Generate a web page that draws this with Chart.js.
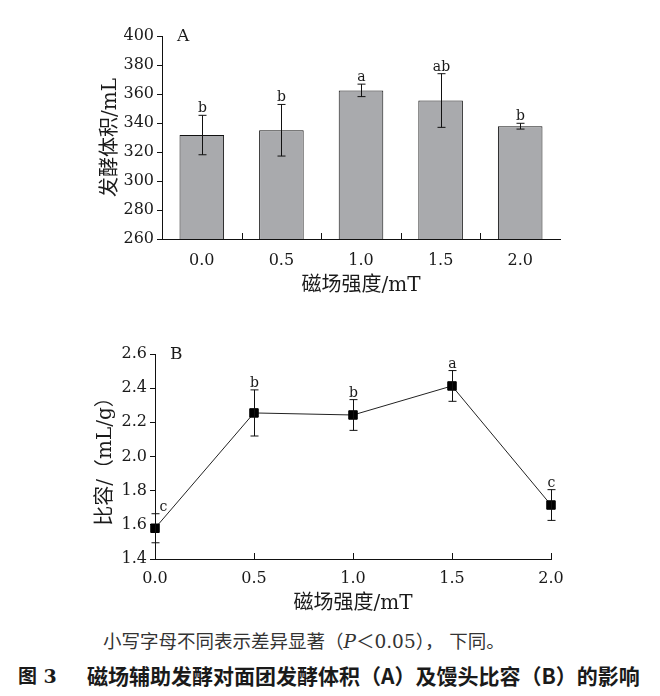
<!DOCTYPE html>
<html>
<head>
<meta charset="utf-8">
<script src="https://cdn.jsdelivr.net/npm/chart.js@4.4.1/dist/chart.umd.min.js"></script>
<style>
body{margin:0;background:#fff;width:660px;height:696px;position:relative;overflow:hidden}
canvas{position:absolute;left:0}
#chartA{top:0}
#chartB{top:320px}
.note{position:absolute;white-space:nowrap;color:#1a1a1a;font-family:"DejaVu Serif","Noto Sans CJK SC",serif}
#note1{left:103px;top:627px;font-size:18.5px;color:#333}
#fig{left:18px;top:661px;font-size:19px;font-weight:bold}
#note2{left:87px;top:660px;font-size:21px;font-weight:bold;font-family:"Noto Sans CJK SC",sans-serif}
</style>
</head>
<body>
<canvas id="chartA" width="660" height="300"></canvas>
<canvas id="chartB" width="660" height="300"></canvas>
<div class="note" id="note1">小写字母不同表示差异显著（<i>P</i>＜0.05）， 下同。</div>
<div class="note" id="fig">图 3</div>
<div class="note" id="note2">磁场辅助发酵对面团发酵体积（A）及馒头比容（B）的影响</div>
<script>
// magnetic field strength (mT)
const strengths = ['0.0', '0.5', '1.0', '1.5', '2.0']
const fieldValues = [0, 0.5, 1.0, 1.5, 2.0]

// A: fermentation volume (mL)
const volumeMeans = [331.7, 335, 362.5, 355.5, 337.8]
const volumeErrors = [13.6, 17.8, 4.3, 18.5, 2.0]
const volumeLetters = ['b', 'b', 'a', 'ab', 'b']

// B: specific volume (mL/g)
const specificMeans = [1.58, 2.255, 2.243, 2.413, 1.716]
const specificErrors = [0.085, 0.135, 0.09, 0.09, 0.09]
const specificLetters = ['c', 'b', 'b', 'a', 'c']

const latin = '"DejaVu Serif", "Noto Sans CJK SC", serif'
const tickFont = { family: latin, size: 16 }
const titleFont = { family: latin, size: 20 }

Chart.defaults.color = '#1a1a1a'

// error bars + significance letters + panel label + inward x ticks
const extras = {
    id: 'extras',
    afterDatasetsDraw(chart, args, opts) {
        const ctx = chart.ctx
        const ys = chart.scales.y
        const meta = chart.getDatasetMeta(0)
        ctx.save()
        ctx.strokeStyle = '#111'
        ctx.lineWidth = 1
        meta.data.forEach((el, i) => {
            const x = Math.round(el.x) + 0.5
            const top = ys.getPixelForValue(opts.means[i] + opts.errors[i])
            const bot = ys.getPixelForValue(opts.means[i] - opts.errors[i])
            ctx.beginPath()
            ctx.moveTo(x, top); ctx.lineTo(x, bot)
            ctx.moveTo(x - opts.cap, top); ctx.lineTo(x + opts.cap, top)
            ctx.moveTo(x - opts.cap, bot); ctx.lineTo(x + opts.cap, bot)
            ctx.stroke()

            ctx.fillStyle = '#1a1a1a'
            ctx.font = '14px ' + latin
            ctx.textAlign = 'center'
            ctx.textBaseline = 'alphabetic'
            let lx = x
            if (opts.shiftFirst && i == 0) lx = x + 8
            ctx.fillText(opts.letters[i], lx, top - 3)
        })
        ctx.restore()
    },
    afterDraw(chart, args, opts) {
        const ctx = chart.ctx
        const area = chart.chartArea
        const xs = chart.scales.x
        ctx.save()
        ctx.strokeStyle = '#111'
        ctx.lineWidth = 1
        ctx.beginPath()
        opts.tickAt(xs).forEach(px => {
            const x = Math.round(px) + 0.5
            ctx.moveTo(x, area.bottom)
            ctx.lineTo(x, area.bottom - 6)
        })
        ctx.stroke()
        ctx.fillStyle = '#1a1a1a'
        ctx.font = '17px ' + latin
        ctx.textAlign = 'left'
        ctx.textBaseline = 'middle'
        ctx.fillText(opts.panel, area.left + 15, area.top + 1)
        ctx.restore()
    }
}

function yAxis(min, max, step, digits, title, width) {
    return {
        min: min,
        max: max,
        ticks: {
            stepSize: step,
            font: tickFont,
            padding: 3,
            callback: v => v.toFixed(digits)
        },
        grid: { drawOnChartArea: false, color: '#111', tickLength: 5 },
        border: { color: '#111', width: 1 },
        title: { display: true, text: title, font: titleFont, padding: { top: 4, bottom: 4 } },
        afterFit(scale) { scale.width = width }
    }
}

new Chart(document.getElementById('chartA'), {
    type: 'bar',
    data: {
        labels: strengths,
        datasets: [{
            data: volumeMeans,
            backgroundColor: '#a9aaad',
            borderColor: '#111',
            borderWidth: 1,
            categoryPercentage: 1,
            barPercentage: 0.56
        }]
    },
    options: {
        responsive: false,
        animation: false,
        devicePixelRatio: 1,
        layout: { padding: { left: 95, top: 36, right: 100, bottom: 0 } },
        plugins: {
            legend: { display: false },
            tooltip: { enabled: false },
            extras: {
                means: volumeMeans, errors: volumeErrors, letters: volumeLetters, cap: 4, panel: 'A',
                tickAt: xs => [1, 2, 3, 4].map(i => (xs.getPixelForValue(i - 1) + xs.getPixelForValue(i)) / 2)
            }
        },
        scales: {
            x: {
                ticks: { font: tickFont, padding: 4 },
                grid: { display: false },
                border: { color: '#111', width: 1 },
                title: { display: true, text: '磁场强度/mT', font: titleFont, padding: { top: 4, bottom: 2 } },
                afterFit(scale) { scale.height = 61 }
            },
            y: yAxis(260, 400, 20, 0, '发酵体积/mL', 67)
        }
    },
    plugins: [extras]
})

new Chart(document.getElementById('chartB'), {
    type: 'line',
    data: {
        datasets: [{
            data: fieldValues.map((v, i) => ({ x: v, y: specificMeans[i] })),
            borderColor: '#222',
            borderWidth: 1,
            pointStyle: 'rect',
            pointRadius: 6,
            pointBackgroundColor: '#000',
            pointBorderColor: '#000',
            pointBorderWidth: 1,
            clip: false
        }]
    },
    options: {
        responsive: false,
        animation: false,
        devicePixelRatio: 1,
        layout: { padding: { left: 90, top: 34, right: 109, bottom: 0 } },
        plugins: {
            legend: { display: false },
            tooltip: { enabled: false },
            extras: {
                means: specificMeans, errors: specificErrors, letters: specificLetters, cap: 4, panel: 'B',
                shiftFirst: true,
                tickAt: xs => fieldValues.slice(1).map(v => xs.getPixelForValue(v))
            }
        },
        scales: {
            x: {
                type: 'linear',
                min: 0,
                max: 2,
                ticks: { stepSize: 0.5, font: tickFont, padding: 2, callback: v => v.toFixed(1) },
                grid: { display: false },
                border: { color: '#111', width: 1 },
                title: { display: true, text: '磁场强度/mT', font: titleFont, padding: { top: 4, bottom: 4 } },
                afterFit(scale) { scale.height = 61 }
            },
            y: yAxis(1.4, 2.6, 0.2, 1, '比容/（mL/g）', 65)
        }
    },
    plugins: [extras]
})
</script>
</body>
</html>
